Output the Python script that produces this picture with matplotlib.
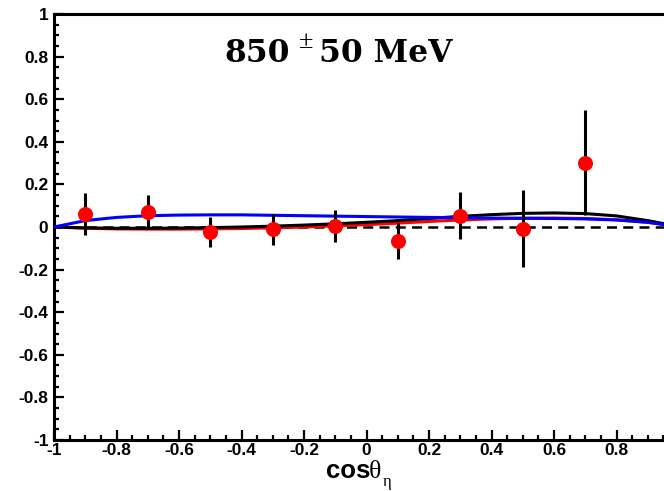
import matplotlib
matplotlib.use("Agg")
import matplotlib.pyplot as plt
import matplotlib.ticker as mticker

# ---- data ----
pt_x = [-0.9, -0.7, -0.5, -0.3, -0.1, 0.1, 0.3, 0.5, 0.7]
pt_y = [0.061, 0.070, -0.023, -0.010, 0.005, -0.066, 0.053, -0.008, 0.302]
pt_err = [0.100, 0.080, 0.070, 0.073, 0.075, 0.085, 0.110, 0.180, 0.247]

curve_x = [-1.0, -0.9, -0.8, -0.7, -0.6, -0.5, -0.4, -0.3, -0.2, -0.1, 0.0,
           0.1, 0.2, 0.3, 0.4, 0.5, 0.6, 0.7, 0.8, 0.9, 0.95]
blue_y = [0.0, 0.030, 0.045, 0.053, 0.056, 0.057, 0.057, 0.055, 0.053, 0.051, 0.049,
          0.047, 0.045, 0.044, 0.042, 0.041, 0.040, 0.038, 0.033, 0.022, 0.012]
black_y = [0.0, -0.004, -0.006, -0.006, -0.005, -0.003, 0.0, 0.004, 0.009, 0.015, 0.022,
           0.030, 0.040, 0.050, 0.058, 0.064, 0.066, 0.063, 0.052, 0.030, 0.016]
red_y = [0.0, -0.006, -0.009, -0.010, -0.010, -0.009, -0.007, -0.004, 0.0, 0.005, 0.011,
         0.018, 0.026, 0.033, 0.038, 0.041, 0.042, 0.040, 0.034, 0.022, 0.012]

x_ticks = [-1, -0.8, -0.6, -0.4, -0.2, 0, 0.2, 0.4, 0.6, 0.8]
x_ticklabels = ["-1", "-0.8", "-0.6", "-0.4", "-0.2", "0", "0.2", "0.4", "0.6", "0.8"]
y_ticks = [-1, -0.8, -0.6, -0.4, -0.2, 0, 0.2, 0.4, 0.6, 0.8, 1]
y_ticklabels = ["-1", "-0.8", "-0.6", "-0.4", "-0.2", "0", "0.2", "0.4", "0.6", "0.8", "1"]

W, H = 664, 491
fig = plt.figure(figsize=(W / 100, H / 100), dpi=100)
left_px, right_px, top_px, bot_px = 54, 664, 14, 440
ax = fig.add_axes([left_px / W, 1 - bot_px / H, (right_px - left_px) / W, (bot_px - top_px) / H])
ax.set_xlim(-1, -1 + (right_px - left_px) / 312.5)
ax.set_ylim(-1, 1)

sans = ["Liberation Sans", "DejaVu Sans"]
serif = ["Liberation Serif", "DejaVu Serif"]

ax.axhline(0, color="black", lw=1.8, ls=(0, (4, 2.5)), zorder=1)
ax.plot(curve_x, red_y, color="red", lw=2.2, zorder=2)
ax.plot(curve_x, blue_y, color="blue", lw=2.2, zorder=3)
ax.plot(curve_x, black_y, color="black", lw=2.2, zorder=2.5)
ax.errorbar(pt_x, pt_y, yerr=pt_err, fmt="o", color="red", ecolor="black",
            elinewidth=2.2, capsize=0, markersize=9.8, mec="red", zorder=4)

for s in ["left", "bottom", "top"]:
    ax.spines[s].set_linewidth(2.2)
ax.spines["right"].set_visible(False)

ax.set_xticks(x_ticks)
ax.set_xticklabels(x_ticklabels)
ax.set_yticks(y_ticks)
ax.set_yticklabels(y_ticklabels)
ax.xaxis.set_minor_locator(mticker.MultipleLocator(0.05))
ax.yaxis.set_minor_locator(mticker.MultipleLocator(0.05))
ax.tick_params(which="both", direction="in", top=False, right=False, width=1.6)
ax.tick_params(which="major", length=7.5)
ax.tick_params(which="minor", length=3.8)
ax.tick_params(axis="y", which="major", pad=4)
ax.tick_params(axis="x", which="major", pad=2)
for lab in ax.get_xticklabels() + ax.get_yticklabels():
    lab.set_fontfamily(sans)
    lab.set_fontweight("bold")
    lab.set_fontsize(12.5)

# x label: cos theta_eta
fig.text(326 / W, 1 - 478 / H, "cos", fontfamily=sans, fontweight="bold",
         fontsize=18.5, ha="left", va="baseline")
fig.text(369 / W, 1 - 478 / H, "θ", fontfamily=serif, fontsize=18.5, ha="left", va="baseline")
fig.text(383 / W, 1 - 486 / H, "η", fontfamily=serif, fontsize=12, ha="left", va="baseline")

# title
tserif = ["DejaVu Serif"]
fig.text(224 / W, 1 - 62 / H, "850", fontfamily=tserif, fontweight="bold",
         fontsize=22.5, ha="left", va="baseline")
fig.text(299 / W, 1 - 42 / H, "±", fontfamily=serif, fontsize=19, ha="left", va="center")
fig.text(319 / W, 1 - 62 / H, "50 MeV", fontfamily=tserif, fontweight="bold",
         fontsize=22.5, ha="left", va="baseline")

fig.savefig("out.png", dpi=100)
